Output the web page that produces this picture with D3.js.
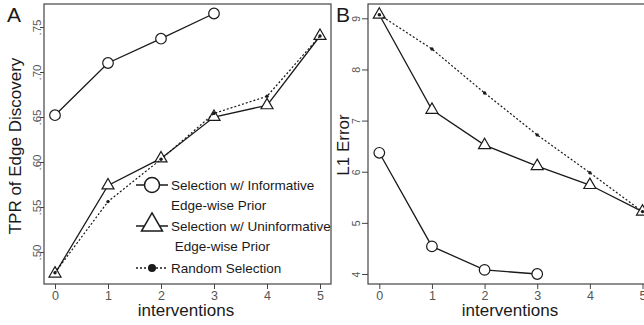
<!DOCTYPE html>
<html>
<head>
<meta charset="utf-8">
<script src="https://cdn.jsdelivr.net/npm/d3@7"></script>
<style>
  body { margin: 0; background: #fff; }
  svg { font-family: "Liberation Sans", Arial, sans-serif; }
</style>
</head>
<body>
<svg id="chart" width="644" height="325"></svg>
<script>
// data
const interventions = [0, 1, 2, 3, 4, 5];
const tprInformative = [0.652, 0.710, 0.737, 0.765];
const tprUninformative = [0.476, 0.574, 0.604, 0.650, 0.663, 0.740];
const tprRandom = [0.477, 0.556, 0.603, 0.654, 0.673, 0.740];
const l1Informative = [6.37, 4.54, 4.08, 4.00];
const l1Uninformative = [9.07, 7.21, 6.52, 6.11, 5.74, 5.22];
const l1Random = [9.07, 8.40, 7.54, 6.72, 5.98, 5.22];
const tprTicks = [0.50, 0.55, 0.60, 0.65, 0.70, 0.75];
const l1Ticks = [4, 5, 6, 7, 8, 9];
const legendLabels = [
  ["Selection w/ Informative", "Edge-wise Prior"],
  ["Selection w/ Uninformative", " Edge-wise Prior"],
  ["Random Selection"]
];

const svg = d3.select("#chart");
const ink = "#1a1a1a";
const tickInk = "#555";

function triPath(cx, cy, s) {
  const h = s * Math.sqrt(3) / 2;
  return "M" + cx + "," + (cy - 2 * h / 3) +
    "L" + (cx + s / 2) + "," + (cy + h / 3) +
    "L" + (cx - s / 2) + "," + (cy + h / 3) + "Z";
}

function panel(opts) {
  const x = d3.scaleLinear().domain([0, 5]).range(opts.xRange);
  const y = d3.scaleLinear().domain(opts.yDomain).range(opts.yRange);
  const g = svg.append("g");

  // box
  g.append("rect")
    .attr("x", opts.box[0]).attr("y", opts.box[1])
    .attr("width", opts.box[2] - opts.box[0])
    .attr("height", opts.box[3] - opts.box[1])
    .attr("fill", "none").attr("stroke", "#444").attr("stroke-width", 1.2);

  // x axis
  const xa = g.append("g")
    .attr("transform", "translate(0," + opts.box[3] + ")")
    .call(d3.axisBottom(x).tickValues(interventions).tickSize(5).tickPadding(2)
      .tickFormat(d3.format("d")));
  xa.select(".domain").remove();
  xa.selectAll("line").attr("stroke", "#444");
  xa.selectAll("text").attr("fill", tickInk).style("font-size", "12.5px");

  // y axis
  const ya = g.append("g")
    .attr("transform", "translate(" + opts.box[0] + ",0)")
    .call(d3.axisLeft(y).tickValues(opts.yTicks).tickSize(opts.yTickLen).tickFormat(opts.yFormat));
  ya.select(".domain").remove();
  ya.selectAll("line").attr("stroke", "#444");
  ya.selectAll("text")
    .attr("fill", tickInk)
    .style("font-size", opts.yTickFont)
    .attr("x", null).attr("dy", "0.35em")
    .attr("text-anchor", "middle")
    .attr("transform", "translate(" + (-opts.yTickLen - opts.yLabelGap) + ",0) rotate(-90)");

  // titles
  g.append("text")
    .attr("x", opts.box[0] + 142).attr("y", 316)
    .attr("text-anchor", "middle").attr("fill", ink)
    .style("font-size", "17px").text("interventions");
  g.append("text")
    .attr("transform", "translate(" + opts.yTitleX + "," + opts.yTitleY + ") rotate(-90)")
    .attr("text-anchor", "middle").attr("fill", ink)
    .style("font-size", "17px").text(opts.yTitle);
  g.append("text")
    .attr("x", opts.letterX).attr("y", 22)
    .attr("fill", ink).style("font-size", "21px").text(opts.letter);

  const line = d3.line().x((d, i) => x(interventions[i])).y(d => y(d));

  // informative
  g.append("path").datum(opts.inf).attr("d", line)
    .attr("fill", "none").attr("stroke", ink).attr("stroke-width", 1.3);
  g.selectAll(".circ").data(opts.inf).enter().append("circle")
    .attr("cx", (d, i) => x(interventions[i])).attr("cy", d => y(d)).attr("r", 5.3)
    .attr("fill", "#fff").attr("stroke", ink).attr("stroke-width", 1.2);

  // uninformative
  g.append("path").datum(opts.uninf).attr("d", line)
    .attr("fill", "none").attr("stroke", ink).attr("stroke-width", 1.3);
  g.selectAll(".tri").data(opts.uninf).enter().append("path")
    .attr("d", (d, i) => triPath(x(interventions[i]), y(d), 12))
    .attr("fill", "#fff").attr("stroke", ink).attr("stroke-width", 1.2);

  // random
  g.append("path").datum(opts.rnd).attr("d", line)
    .attr("fill", "none").attr("stroke", ink).attr("stroke-width", 1.2)
    .attr("stroke-dasharray", "2,2");
  g.selectAll(".dot").data(opts.rnd).enter().append("circle")
    .attr("cx", (d, i) => x(interventions[i])).attr("cy", d => y(d)).attr("r", 1.7)
    .attr("fill", ink);
}

panel({
  xRange: [55, 320], yDomain: [0.50, 0.75], yRange: [252, 27],
  box: [44, 4, 331, 284], yTicks: tprTicks, yTickLen: 4, yLabelGap: 3, yTickFont: "11.5px",
  yFormat: d => d3.format(".2f")(d).replace(/^0/, ""),
  yTitle: "TPR of Edge Discovery", yTitleX: 21, yTitleY: 146,
  letter: "A", letterX: 7,
  inf: tprInformative, uninf: tprUninformative, rnd: tprRandom
});

panel({
  xRange: [379.3, 642.5], yDomain: [4, 9], yRange: [274, 18.3],
  box: [368, 4, 660, 284], yTicks: l1Ticks, yTickLen: 6, yLabelGap: 6, yTickFont: "10.5px",
  yFormat: d3.format("d"),
  yTitle: "L1 Error", yTitleX: 349, yTitleY: 145,
  letter: "B", letterX: 336,
  inf: l1Informative, uninf: l1Uninformative, rnd: l1Random
});

// legend (panel A)
const lg = svg.append("g");
const lx0 = 136, lx1 = 168, lcx = 152, tx = 171;
const rows = [185, 226, 268];
lg.append("line").attr("x1", lx0).attr("x2", lx1).attr("y1", rows[0]).attr("y2", rows[0])
  .attr("stroke", ink).attr("stroke-width", 1.5);
lg.append("circle").attr("cx", lcx).attr("cy", rows[0]).attr("r", 7.5)
  .attr("fill", "#fff").attr("stroke", ink).attr("stroke-width", 1.5);
lg.append("line").attr("x1", lx0).attr("x2", lx1).attr("y1", rows[1]).attr("y2", rows[1])
  .attr("stroke", ink).attr("stroke-width", 1.5);
lg.append("path").attr("d", triPath(lcx, rows[1] - 1, 21))
  .attr("fill", "#fff").attr("stroke", ink).attr("stroke-width", 1.5);
lg.append("line").attr("x1", lx0).attr("x2", lx1).attr("y1", rows[2]).attr("y2", rows[2])
  .attr("stroke", ink).attr("stroke-width", 1.3).attr("stroke-dasharray", "2,2");
lg.append("circle").attr("cx", lcx).attr("cy", rows[2]).attr("r", 4).attr("fill", ink);

legendLabels.forEach((lines, i) => {
  lines.forEach((t, j) => {
    lg.append("text")
      .attr("x", tx).attr("y", rows[i] + j * 20.5).attr("dy", "0.35em")
      .attr("fill", ink).style("font-size", "13.5px")
      .style("white-space", "pre").attr("xml:space", "preserve")
      .text(t);
  });
});
</script>
</body>
</html>
